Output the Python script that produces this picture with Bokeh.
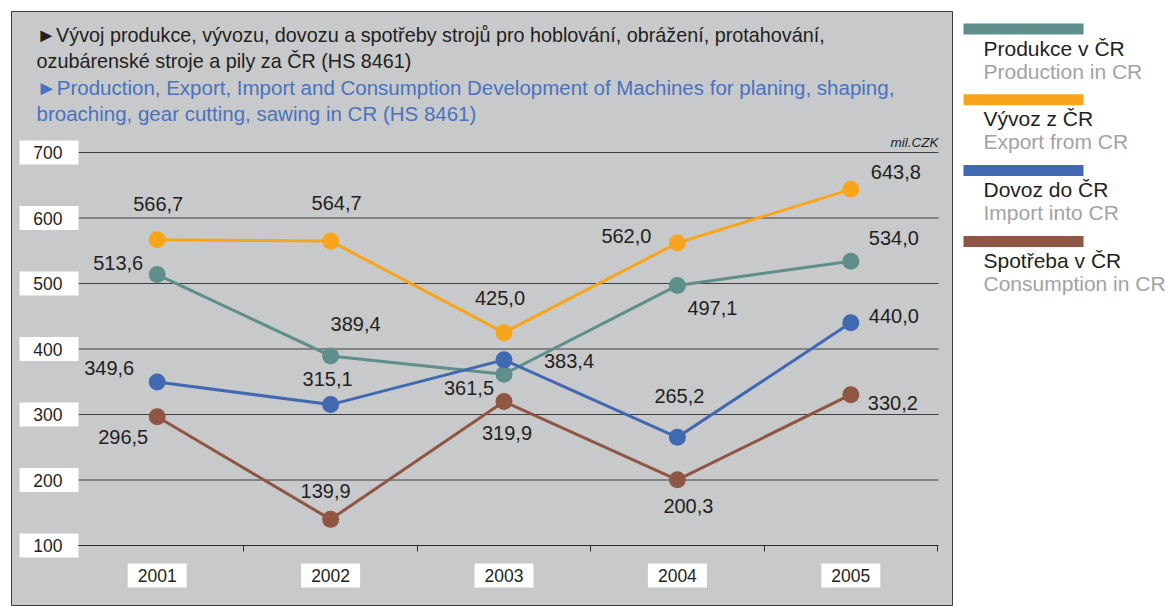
from bokeh.plotting import figure
from bokeh.models import ColumnDataSource, Range1d, FixedTicker, LinearAxis
from bokeh.layouts import row
from bokeh.core.properties import value
from bokeh.embed import file_html
from bokeh.resources import INLINE

# ---------------- data ----------------
years = [2001, 2002, 2003, 2004, 2005]
year_labels = ["2001", "2002", "2003", "2004", "2005"]
production = [513.6, 389.4, 361.5, 497.1, 534.0]
export = [566.7, 564.7, 425.0, 562.0, 643.8]
imports = [349.6, 315.1, 383.4, 265.2, 440.0]
consumption = [296.5, 139.9, 319.9, 200.3, 330.2]
y_ticks = [100, 200, 300, 400, 500, 600, 700]
series_cz = ["Produkce v ČR", "Vývoz z ČR", "Dovoz do ČR", "Spotřeba v ČR"]
series_en = ["Production in CR", "Export from CR", "Import into CR", "Consumption in CR"]
title_cz = ["►Vývoj produkce, vývozu, dovozu a spotřeby strojů pro hoblování, obrážení, protahování,",
            "ozubárenské stroje a pily za ČR (HS 8461)"]
title_en = ["►Production, Export, Import and Consumption Development of Machines for planing, shaping,",
            "broaching, gear cutting, sawing in CR (HS 8461)"]
unit_label = "mil.CZK"

# ---------------- styles ----------------
FONT = "Liberation Sans"
BG = "#C8C9CB"
TXT = "#231F20"
BLUE_TXT = "#4A72BE"
GRAY_TXT = "#A3A3A3"
GRID = "#3F3F3F"
colors = ["#5E8F8A", "#F9A51B", "#4169B2", "#8E5643"]
series = [production, export, imports, consumption]
label_offsets = [
    [(-39, -12), (25, -32), (-35, 14), (35, 23), (43, -23)],
    [(1, -36), (6, -38), (-4, -35), (-51, -7), (45, -17)],
    [(-48, -14), (-3, -26), (65, 1), (2, -41), (43, -7)],
    [(-34, 20), (-5, -28), (3, 32), (11, 26), (42, 8)],
]
draw_order = [0, 3, 2, 1]

# ---------------- layout (page pixels) ----------------
PANEL_L, PANEL_T, PANEL_R, PANEL_B = 11, 11, 953, 606
AX_L, AX_R = 70, 937          # pixel of category-axis start/end
Y_BOT_PX, Y_TOP_PX = 545, 152  # pixel of value 100 / 700
GRID_L, GRID_R = 78, 938
KX = (AX_R - AX_L) / 5.0
KY = (Y_BOT_PX - Y_TOP_PX) / 600.0


def X(px):
    return years[0] - 0.5 + (px - AX_L) / KX


def Y(py):
    return y_ticks[0] + (Y_BOT_PX - py) / KY


def fmt(v):
    return f"{v:.1f}".replace(".", ",")


def set_font(ax, size):
    try:
        ax.major_label_text_font = value(FONT)
    except Exception:
        ax.major_label_text_font = FONT
    ax.major_label_text_font_size = size
    ax.major_label_text_color = TXT


W1, H1 = PANEL_R - PANEL_L, PANEL_B - PANEL_T
p = figure(width=W1, height=H1,
           x_range=Range1d(X(PANEL_L), X(PANEL_R)), y_range=Range1d(Y(PANEL_B), Y(PANEL_T)),
           output_backend="svg", toolbar_location=None, title=None,
           x_axis_location=None, y_axis_location=None, min_border=0,
           background_fill_color=BG, border_fill_color=BG,
           outline_line_color="#3A3A3A", outline_line_width=1)
p.margin = (PANEL_T, 0, 0, PANEL_L)
p.grid.visible = False

# horizontal grid lines
gsrc = ColumnDataSource(dict(y=y_ticks))
p.segment(x0=X(GRID_L), x1=X(GRID_R), y0="y", y1="y", source=gsrc,
          line_color=GRID, line_width=1)

# white boxes behind tick labels
p.rect(x=X(48.5), y="y", source=gsrc, width=59, height=24, width_units="screen",
       height_units="screen", fill_color="white", line_color=None)
p.rect(x=years, y=Y(575), width=59, height=24, width_units="screen",
       height_units="screen", fill_color="white", line_color=None)

# category axis (inside the panel)
xa = LinearAxis(fixed_location=y_ticks[0],
                ticker=FixedTicker(ticks=years, minor_ticks=[y + 0.5 for y in years]),
                bounds=(X(GRID_L), years[-1] + 0.5),
                major_label_overrides={y: lab for y, lab in zip(years, year_labels)})
xa.major_tick_out = 0
xa.major_tick_in = 0
xa.minor_tick_in = 0
xa.minor_tick_out = 6
xa.minor_tick_line_color = "#2A2A2A"
xa.axis_line_color = "#2A2A2A"
xa.axis_line_width = 1
xa.major_label_standoff = 17
set_font(xa, "17.5px")
p.add_layout(xa, "below")

# value axis (labels only)
ya = LinearAxis(fixed_location=X(GRID_L), ticker=FixedTicker(ticks=y_ticks))
ya.axis_line_color = None
ya.major_tick_line_color = None
ya.minor_tick_line_color = None
ya.major_tick_out = 0
ya.major_tick_in = 0
ya.major_label_standoff = 16
set_font(ya, "17.5px")
p.add_layout(ya, "left")

# series
for i in draw_order:
    src = ColumnDataSource(dict(x=years, y=series[i]))
    p.line("x", "y", source=src, line_color=colors[i], line_width=3)
    p.scatter("x", "y", source=src, size=17, fill_color=colors[i], line_color=None)

for i in range(4):
    vals = series[i]
    offs = label_offsets[i]
    lsrc = ColumnDataSource(dict(x=years, y=vals, t=[fmt(v) for v in vals],
                                 dx=[o[0] for o in offs], dy=[o[1] for o in offs]))
    p.text("x", "y", text="t", x_offset="dx", y_offset="dy", source=lsrc,
           text_align="center", text_baseline="middle", text_font_size="20px",
           text_color=TXT, text_font=value(FONT))

# title
p.text(x=[X(36)] * 2, y=[Y(34.0), Y(60.3)], text=title_cz, text_align="left",
       text_baseline="middle", text_font_size="19.8px", text_color=TXT,
       text_font=value(FONT))
p.text(x=[X(36)] * 2, y=[Y(86.6), Y(113.0)], text=title_en, text_align="left",
       text_baseline="middle", text_font_size="20.5px", text_color=BLUE_TXT,
       text_font=value(FONT))
p.text(x=[X(938)], y=[Y(141.5)], text=[unit_label], text_align="right",
       text_baseline="middle", text_font_size="13.5px", text_font_style="italic",
       text_color=TXT, text_font=value(FONT))

# ---------------- legend panel ----------------
L_L, L_R = PANEL_R, 1169
p2 = figure(width=L_R - L_L, height=H1, x_range=Range1d(L_L, L_R), y_range=Range1d(PANEL_B, PANEL_T),
            output_backend="svg", toolbar_location=None, title=None,
            x_axis_location=None, y_axis_location=None, min_border=0,
            background_fill_color="white", border_fill_color="white", outline_line_color=None)
p2.margin = (PANEL_T, 0, 0, 0)
p2.grid.visible = False
step = 70.8
bar_y = [28.5 + step * i for i in range(4)]
cz_y = [47.5 + step * i for i in range(4)]
en_y = [70.5 + step * i for i in range(4)]
p2.rect(x=1023, y=bar_y, width=120, height=11, fill_color=colors, line_color=None)
p2.text(x=983, y=cz_y, text=series_cz, text_align="left", text_baseline="middle",
        text_font_size="21px", text_color=TXT, text_font=value(FONT))
p2.text(x=983, y=en_y, text=series_en, text_align="left", text_baseline="middle",
        text_font_size="21px", text_color=GRAY_TXT, text_font=value(FONT))

layout = row(p, p2)
open("out.html", "w").write(file_html(layout, INLINE))
